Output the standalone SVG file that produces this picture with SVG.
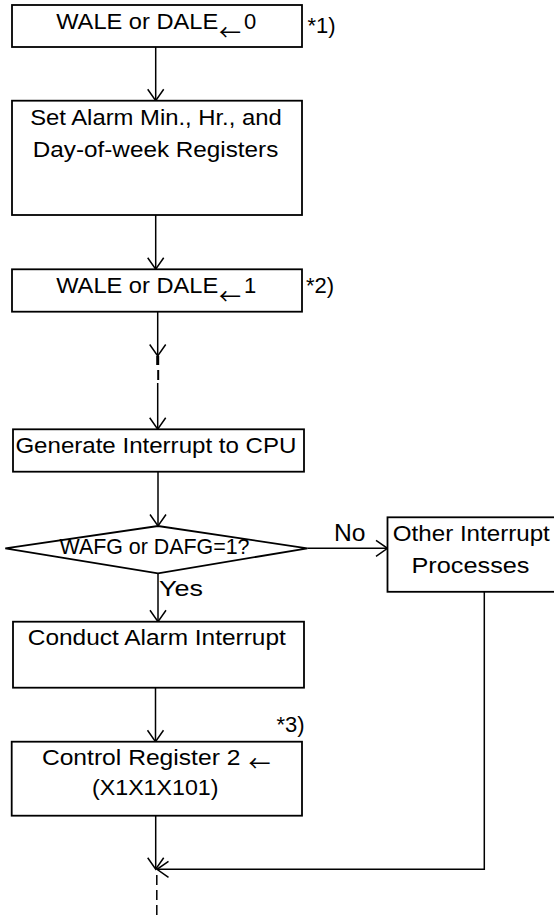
<svg xmlns="http://www.w3.org/2000/svg" width="554" height="919" viewBox="0 0 554 919">
<style>
.box{fill:#fff;stroke:#000;stroke-width:1.8}
.t{font-family:"Liberation Sans",Arial,sans-serif;font-size:22px;fill:#000}
.ar{font-family:"Noto Sans CJK JP","Noto Sans CJK SC",sans-serif;font-size:22px;fill:#000}
.c{fill:none;stroke:#000;stroke-width:1.5}
</style>
<defs>
<marker id="v" markerUnits="userSpaceOnUse" markerWidth="20" markerHeight="20" refX="0" refY="0" orient="auto" overflow="visible">
<path d="M-11.5,-8 L0,0 L-11.5,8" fill="none" stroke="#000" stroke-width="1.5"/>
</marker>
</defs>
<rect width="554" height="919" fill="#fff"/>
<g id="connectors">
<line class="c" x1="155.7" y1="47" x2="155.7" y2="100.7" marker-end="url(#v)"/>
<line class="c" x1="155.7" y1="215" x2="155.7" y2="269.3" marker-end="url(#v)"/>
<line class="c" x1="157.7" y1="311.7" x2="157.7" y2="356" marker-end="url(#v)"/>
<line x1="157.7" y1="356" x2="157.7" y2="365" stroke="#000" stroke-width="3"/>
<line x1="158.2" y1="370" x2="158.2" y2="380" stroke="#000" stroke-width="2"/>
<line class="c" x1="157.7" y1="383" x2="157.7" y2="429.3" marker-end="url(#v)"/>
<line class="c" x1="158" y1="471.7" x2="158" y2="526" marker-end="url(#v)"/>
<line class="c" x1="307.4" y1="548.3" x2="387.5" y2="548.3" marker-end="url(#v)"/>
<line class="c" x1="158" y1="573.3" x2="158" y2="621.7" marker-end="url(#v)"/>
<line class="c" x1="155.5" y1="687.7" x2="155.5" y2="741.7" marker-end="url(#v)"/>
<line class="c" x1="155.7" y1="815.7" x2="155.7" y2="869.3" marker-end="url(#v)"/>
<polyline class="c" points="484.3,592 484.3,869.3 157,869.3" marker-end="url(#v)"/>
<line class="c" x1="156.8" y1="875" x2="156.8" y2="919" stroke-dasharray="10 5"/>
<text class="t" x="334" y="540.7" textLength="31.5" lengthAdjust="spacingAndGlyphs" style="font-size:24px">No</text>
<text class="t" x="159" y="596" textLength="44" lengthAdjust="spacingAndGlyphs">Yes</text>
</g>
<g id="n1">
<rect class="box" x="12" y="5" width="290" height="42"/>
<text class="t" x="56.2" y="29" textLength="162" lengthAdjust="spacingAndGlyphs">WALE or DALE</text>
<text class="ar" x="219" y="40">←</text>
<text class="t" x="244" y="29">0</text>
<text class="t" x="307.5" y="33">*1)</text>
</g>
<g id="n2">
<rect class="box" x="12" y="100.7" width="290" height="114.3"/>
<text class="t" x="30.2" y="125" textLength="251.5" lengthAdjust="spacingAndGlyphs">Set Alarm Min., Hr., and</text>
<text class="t" x="32.8" y="156.7" textLength="245.5" lengthAdjust="spacingAndGlyphs">Day-of-week Registers</text>
</g>
<g id="n3">
<rect class="box" x="12" y="269.3" width="290" height="42.4"/>
<text class="t" x="56.2" y="292.5" textLength="162" lengthAdjust="spacingAndGlyphs">WALE or DALE</text>
<text class="ar" x="219" y="303.5">←</text>
<text class="t" x="244" y="292.5">1</text>
<text class="t" x="306" y="293">*2)</text>
</g>
<g id="n4">
<rect class="box" x="13" y="429.3" width="291" height="42.4"/>
<text class="t" x="15.4" y="452.7" textLength="281" lengthAdjust="spacingAndGlyphs">Generate Interrupt to CPU</text>
</g>
<g id="n5">
<polygon class="box" points="5.3,548.3 158,526 307.4,548.3 158,573.3"/>
<text class="t" x="59.5" y="554" textLength="190" lengthAdjust="spacingAndGlyphs">WAFG or DAFG=1?</text>
</g>
<g id="n6">
<rect class="box" x="387.5" y="517.3" width="170" height="74.5"/>
<text class="t" x="392.8" y="540.7" textLength="157" lengthAdjust="spacingAndGlyphs">Other Interrupt</text>
<text class="t" x="411.5" y="573.3" textLength="118" lengthAdjust="spacingAndGlyphs">Processes</text>
</g>
<g id="n7">
<rect class="box" x="13" y="621.7" width="291" height="66"/>
<text class="t" x="27.8" y="645" textLength="258" lengthAdjust="spacingAndGlyphs">Conduct Alarm Interrupt</text>
</g>
<g id="n8">
<rect class="box" x="11.7" y="741.7" width="290.3" height="74"/>
<text class="t" x="276.5" y="731.7">*3)</text>
<text class="t" x="41.9" y="765" textLength="198.5" lengthAdjust="spacingAndGlyphs">Control Register 2</text>
<text class="ar" x="248.5" y="771">←</text>
<text class="t" x="92" y="795" textLength="126.5" lengthAdjust="spacingAndGlyphs">(X1X1X101)</text>
</g>
</svg>
